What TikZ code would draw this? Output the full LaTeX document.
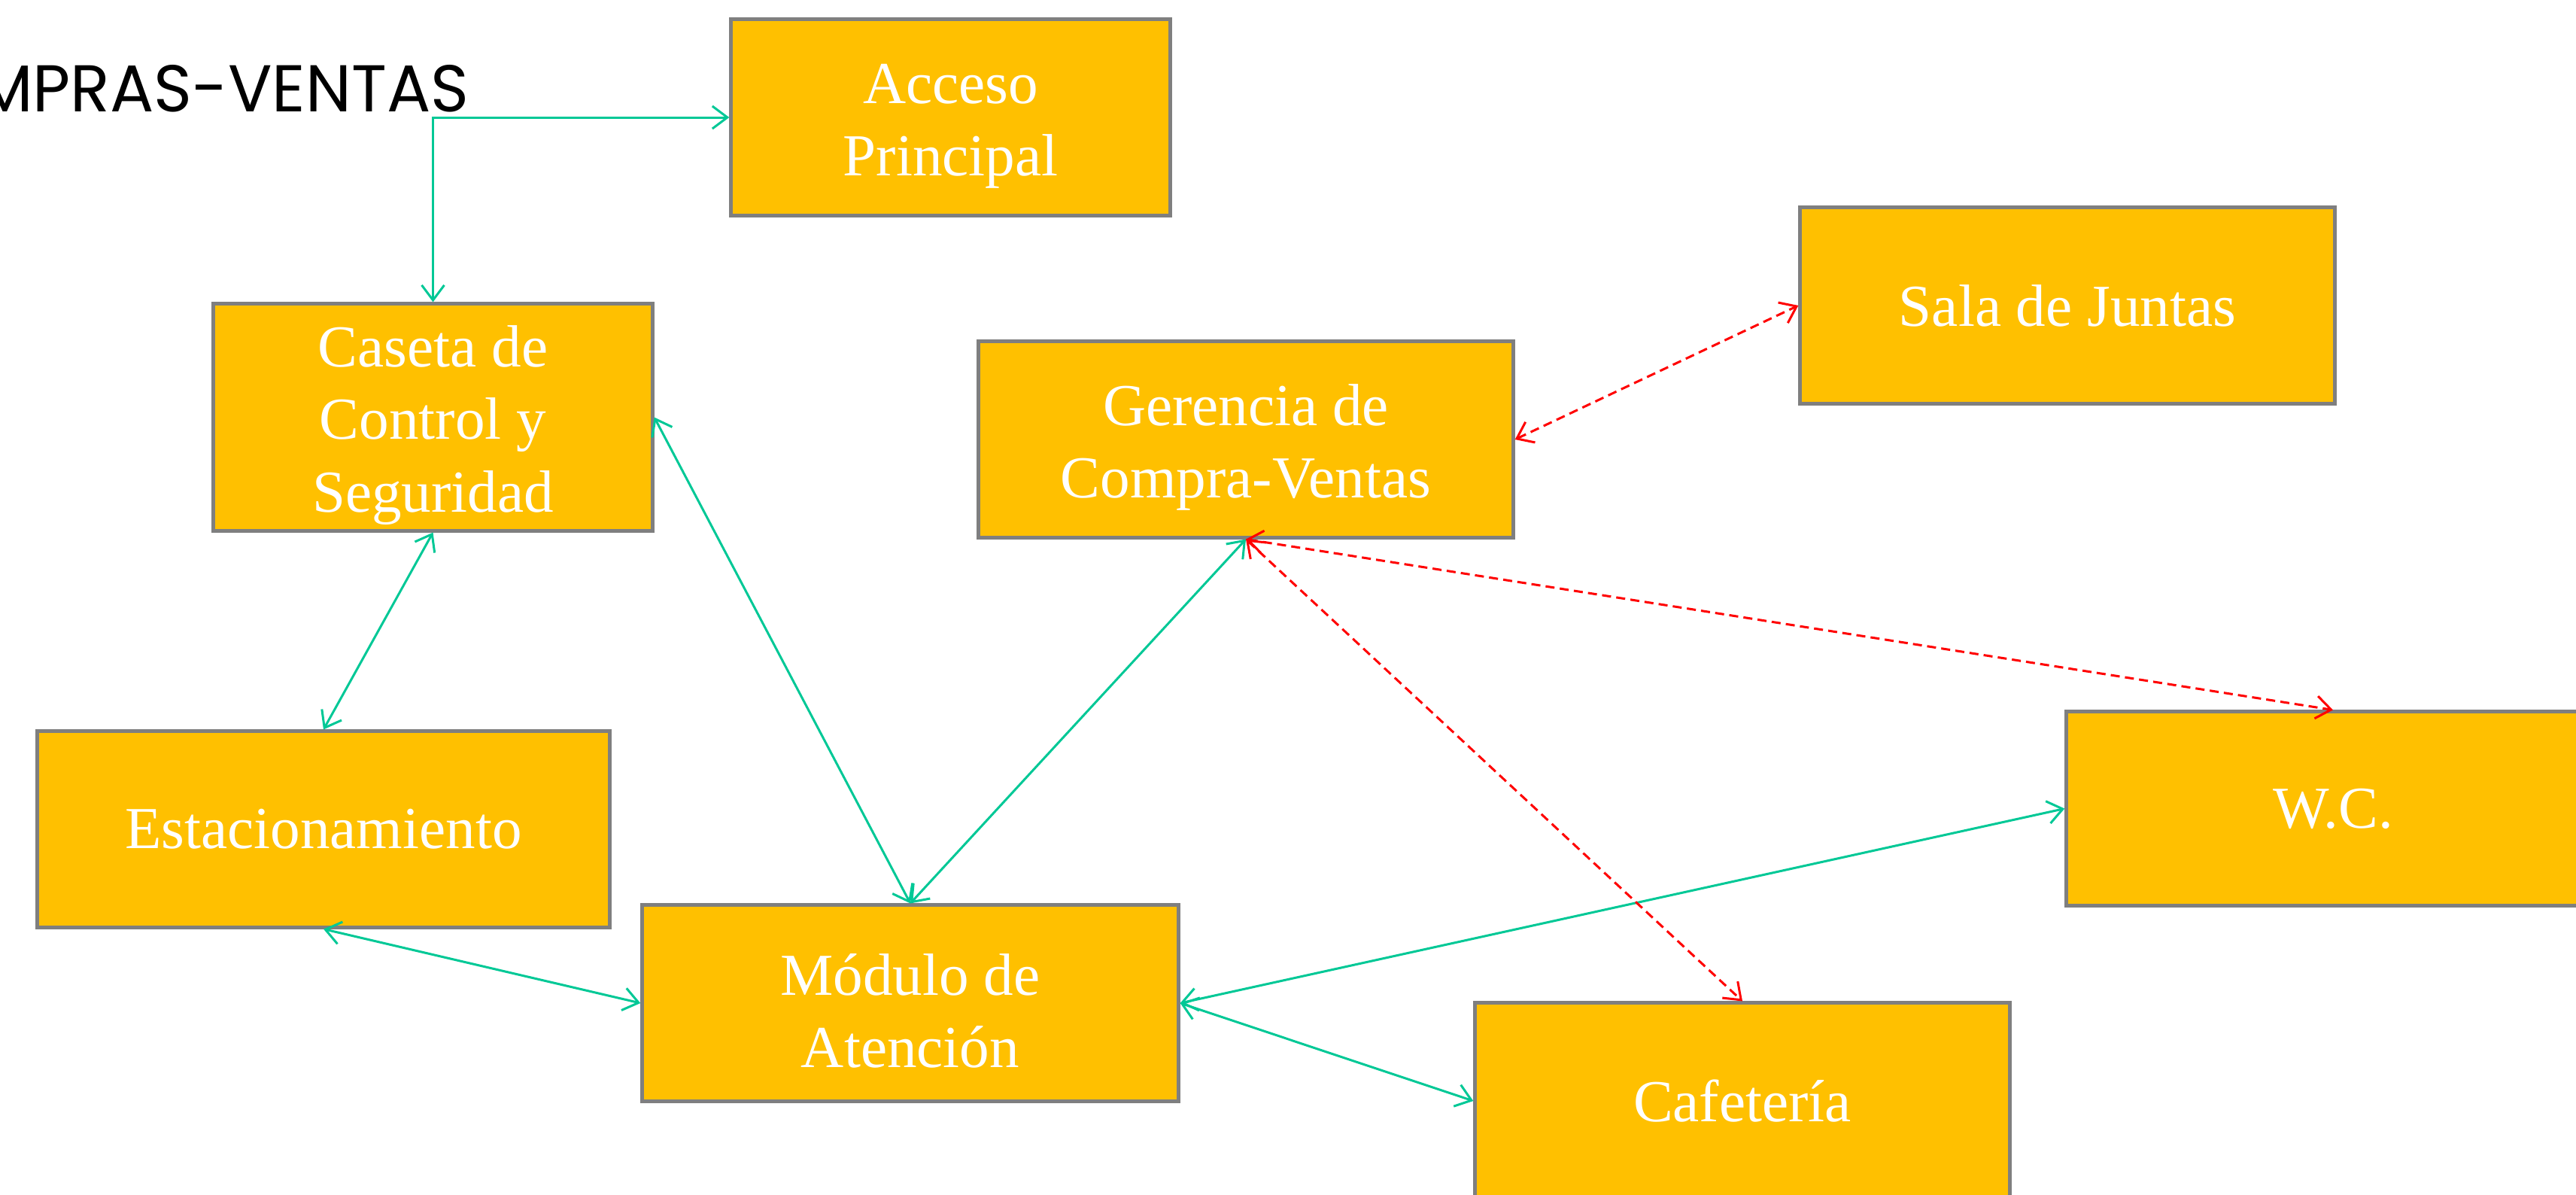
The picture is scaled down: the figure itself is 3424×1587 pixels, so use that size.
\documentclass[tikz,border=0pt]{standalone}
\usepackage{fontspec}
\usepackage{graphicx}
\setmainfont{Liberation Serif}
\newfontfamily\titlefont{Poppins}
\usetikzlibrary{arrows.meta}
\definecolor{boxfill}{HTML}{FFC000}
\definecolor{boxline}{HTML}{7F7F7F}
\definecolor{linkgreen}{RGB}{0,200,150}
\definecolor{linkred}{RGB}{255,0,0}
\newcommand{\firststrut}{\rule{0pt}{0.76cm}}
\tikzset{
  room/.style={rectangle, draw=boxline, fill=boxfill, line width=0.05cm,
    text=white, align=center, inner sep=0pt,
    font=\fontsize{22.5pt}{27.3pt}\selectfont},
  glink/.style={draw=linkgreen, line width=0.03cm, {Straight Barb[length=0.2cm,width=0.3cm]}-{Straight Barb[length=0.2cm,width=0.3cm]}},
  rlink/.style={draw=linkred, line width=0.03cm, dash pattern=on 0.12cm off 0.07cm, {Straight Barb[length=0.2cm,width=0.3cm]}-{Straight Barb[length=0.2cm,width=0.3cm]}}
}
\begin{document}
\begin{tikzpicture}[x=0.01cm,y=-0.01cm]
\useasboundingbox (0,0) rectangle (3424,1587);
\node[anchor=base east, inner sep=0pt, font=\titlefont\fontsize{25pt}{28pt}\selectfont] (title) at (624,148) {\scalebox{0.985}[1]{MPRAS-VENTAS}};
\node[room, minimum width=5.83cm, minimum height=2.60cm] (acc) at (1263.5,156) {\firststrut Acceso\\Principal};
\node[room, minimum width=5.83cm, minimum height=3.01cm] (cas) at (575.5,554.5) {\firststrut Caseta de\\Control y\\Seguridad};
\node[room, minimum width=7.10cm, minimum height=2.60cm] (ger) at (1656,584) {\firststrut Gerencia de\\Compra-Ventas};
\node[room, minimum width=7.10cm, minimum height=2.60cm] (sala) at (2748,406) {Sala de Juntas};
\node[room, minimum width=7.60cm, minimum height=2.60cm] (est) at (430,1102) {Estacionamiento};
\node[room, minimum width=7.12cm, minimum height=2.60cm] (mod) at (1210,1333) {\firststrut Módulo de\\Atención};
\node[room, minimum width=7.08cm, minimum height=2.57cm] (wc) at (3101,1074.5) {W.C.};
\node[room, minimum width=7.10cm, minimum height=2.60cm] (caf) at (2316,1463) {Cafetería};
\draw[glink] (cas.north) |- (acc.west);
\draw[glink] (cas.south) -- (est.north);
\draw[glink] (cas.east) -- (mod.north);
\draw[glink] (ger.south) -- (mod.north);
\draw[glink] (est.south) -- (mod.west);
\draw[glink] (mod.east) -- (wc.west);
\draw[glink] (mod.east) -- (caf.west);
\draw[rlink] (ger.east) -- (sala.west);
\draw[rlink] (ger.south) -- (wc.north);
\draw[rlink] (ger.south) -- (caf.north);
\end{tikzpicture}
\end{document}
